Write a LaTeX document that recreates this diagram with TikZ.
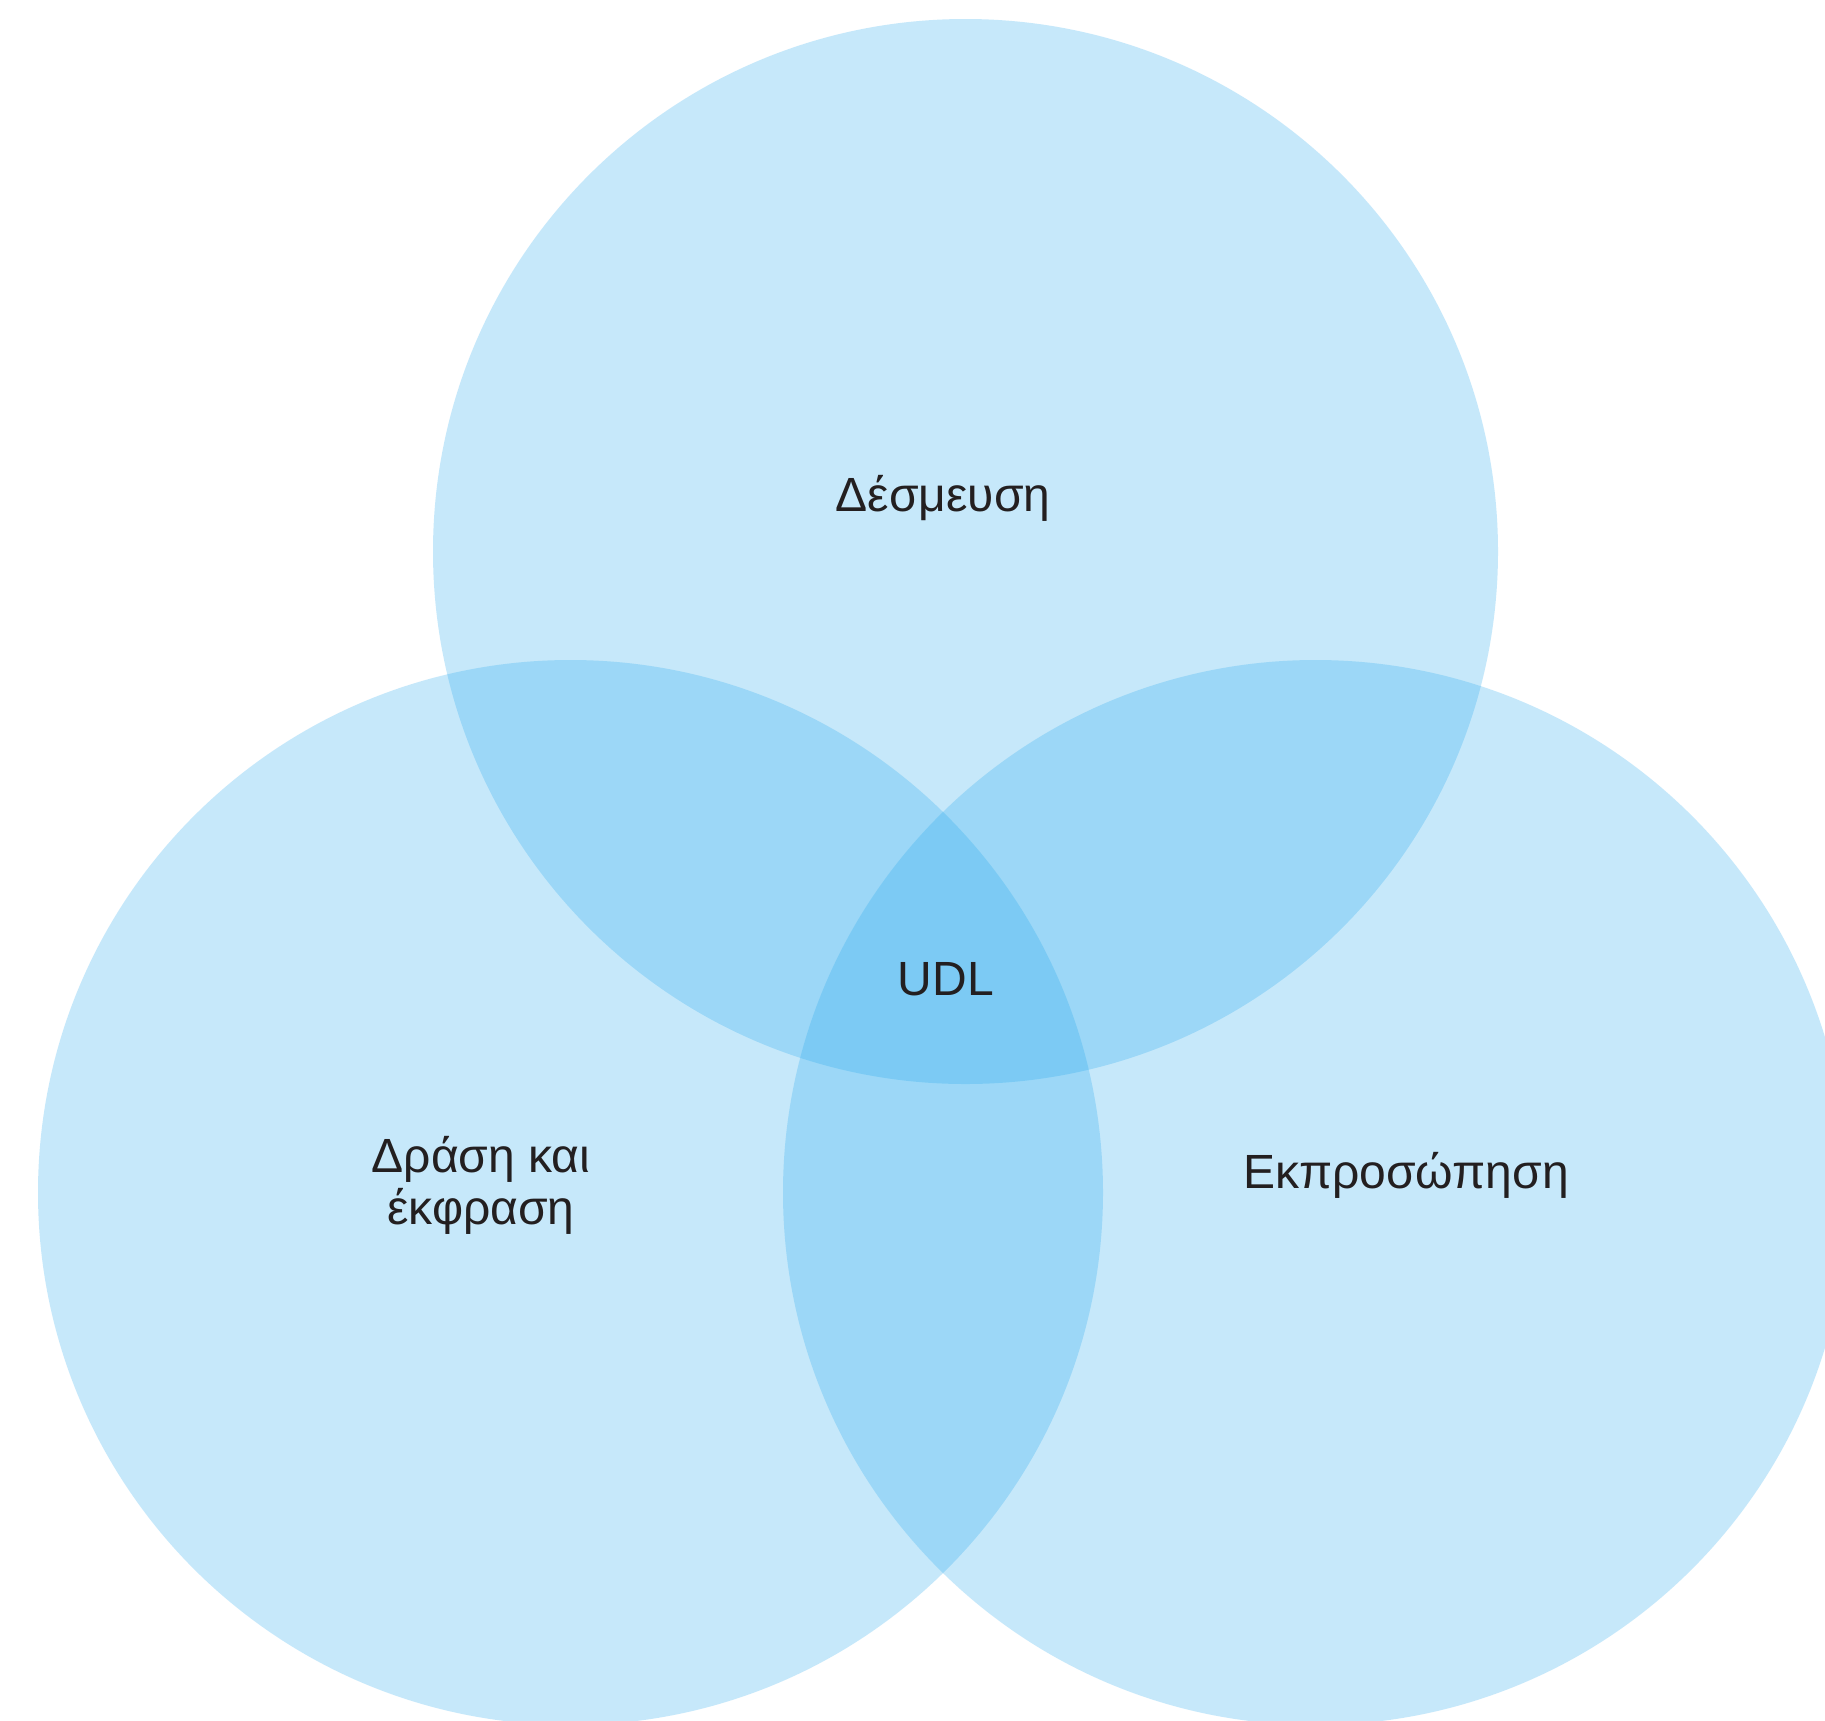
\documentclass[tikz,border=0pt]{standalone}
\usepackage{fontspec}
\setmainfont{Liberation Sans}
\definecolor{vennblue}{RGB}{31,167,239}
\definecolor{labeltext}{RGB}{35,31,32}
\tikzset{
  vennset/.style={fill=vennblue, fill opacity=0.25, draw=none},
  vennlabel/.style={font=\fontsize{24pt}{26pt}\selectfont, text=labeltext, inner sep=0pt, align=center}
}
\begin{document}
\begin{tikzpicture}[x=0.5pt, y=-0.5pt]
  \useasboundingbox (0,0) rectangle (1825,1720);
  \fill[white] (0,0) rectangle (1825,1720);
  \clip (0,0) rectangle (1825,1720);
  \fill[vennset] (965.5,551.5) circle (532.5);
  \fill[vennset] (570.5,1192.5) circle (532.5);
  \fill[vennset] (1315.5,1192.5) circle (532.5);
  \node[vennlabel, anchor=base] (engage) at (943,511) {Δέσμευση};
  \node[vennlabel, anchor=base] (udl) at (946,995) {UDL};
  \node[vennlabel, anchor=center] (action) at (481,1185) {Δράση και\\έκφραση};
  \node[vennlabel, anchor=base] (repr) at (1406,1188) {Εκπροσώπηση};
\end{tikzpicture}
\end{document}
